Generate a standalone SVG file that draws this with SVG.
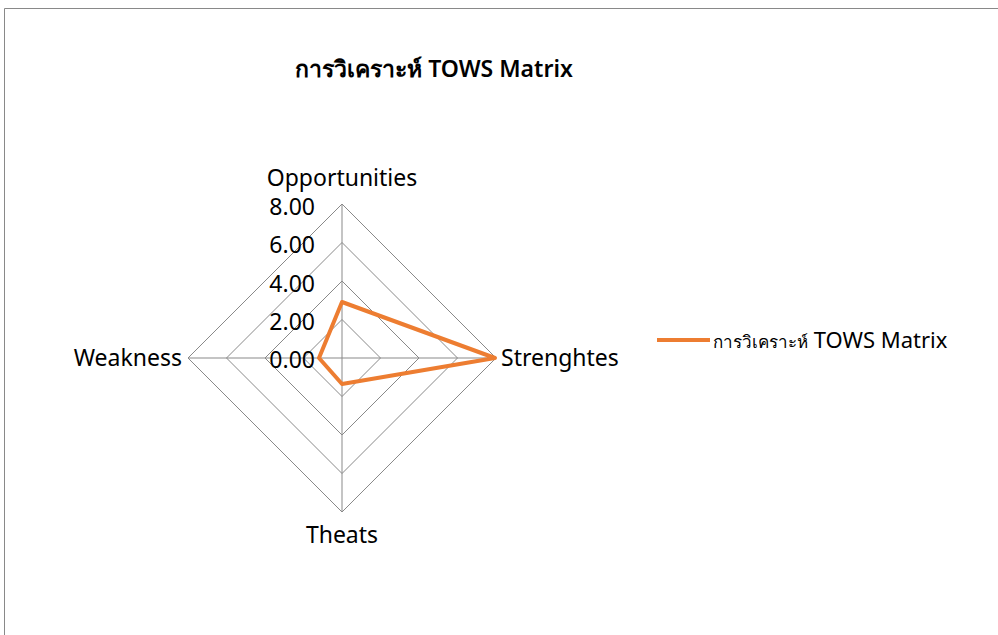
<svg xmlns="http://www.w3.org/2000/svg" width="998" height="635" viewBox="0 0 998 635">
<style>
.t{font-family:"Noto Sans","Liberation Sans",sans-serif;fill:#000}
.grid{fill:none;stroke:#898989;stroke-width:1}
</style>
<rect x="0" y="0" width="998" height="635" fill="#fff"/>
<path d="M4.5 635 V8.5 H998" fill="none" stroke="#898989" stroke-width="1"/>
<text class="t" x="434" y="77" font-size="23" font-weight="600" text-anchor="middle">การวิเคราะห์ TOWS Matrix</text>
<g id="grid">
<polygon class="grid" points="342,204 496,358 342,512 188,358"/>
<polygon class="grid" points="342,242.5 457.5,358 342,473.5 226.5,358"/>
<polygon class="grid" points="342,281 419,358 342,435 265,358"/>
<polygon class="grid" points="342,319.5 380.5,358 342,396.5 303.5,358"/>
<line class="grid" x1="342" y1="204" x2="342" y2="512"/>
<line class="grid" x1="188" y1="358" x2="496" y2="358"/>
</g>
<g id="ticks" class="t" font-size="23" text-anchor="end">
<text x="315" y="215">8.00</text>
<text x="315" y="253">6.00</text>
<text x="315" y="292">4.00</text>
<text x="315" y="330">2.00</text>
<text x="315" y="368">0.00</text>
</g>
<g id="axis-labels" class="t" font-size="23">
<text x="342" y="186" text-anchor="middle">Opportunities</text>
<text x="501" y="366">Strenghtes</text>
<text x="182" y="366" text-anchor="end">Weakness</text>
<text x="342" y="543" text-anchor="middle">Theats</text>
</g>
<g id="series">
<polygon points="342,302 495,358 342,384 319,358" fill="none" stroke="#ED7D31" stroke-width="4" stroke-linejoin="round"/>
</g>
<g id="legend">
<line x1="657" y1="340" x2="710" y2="340" stroke="#ED7D31" stroke-width="4"/>
<text class="t" x="713" y="348"><tspan font-size="17">การวิเคราะห์</tspan><tspan font-size="22"> TOWS Matrix</tspan></text>
</g>
</svg>
